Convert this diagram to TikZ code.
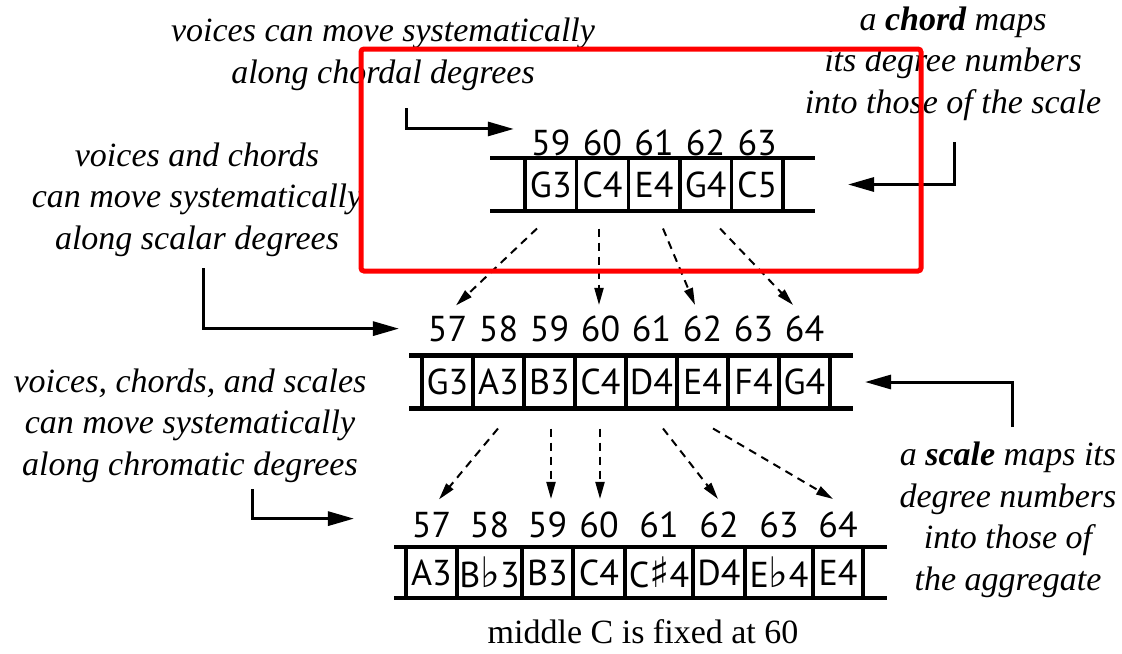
\documentclass[tikz,border=0pt]{standalone}
\usepackage{fontspec}
\setmainfont{Liberation Serif}
\setsansfont{PT Sans}
\newfontfamily\musicfont{DejaVu Sans}
\usepackage{tikz}
\usetikzlibrary{arrows.meta,positioning}
\definecolor{hlRed}{HTML}{FF0000}
\newcommand{\notesize}{\fontsize{17pt}{20.75pt}\selectfont}
\newcommand{\lblsize}{\fontsize{18pt}{21pt}\selectfont}
\newcommand{\flt}{{\musicfont\fontsize{21pt}{21pt}\selectfont ♭}}
\newcommand{\shp}{{\musicfont\fontsize{21pt}{21pt}\selectfont ♯}}

\begin{document}
\begin{tikzpicture}[
    x=0.5pt, y=-0.5pt,
    >={Triangle[length=13pt,width=7pt]},
    cell/.style={draw, line width=1.7pt, inner sep=0pt, outer sep=0pt,
                 minimum height=26.5pt, font=\sffamily\lblsize},
    num/.style={anchor=base, inner sep=0pt, font=\sffamily\lblsize},
    rail/.style={line width=2.2pt},
    note/.style={anchor=base, align=center, inner sep=0pt, font=\itshape\notesize},
    arr/.style={->, line width=1.5pt},
    map/.style={-{Triangle[length=8.5pt,width=4.5pt]}, line width=1pt,
                dash pattern=on 4pt off 3pt},
  ]
  \useasboundingbox (0,0) rectangle (1122,653);
  % chord row
  \foreach \lbl/\n [count=\i] in {G3/59,C4/60,E4/61,G4/62,C5/63} {
    \node[cell, minimum width=25.8pt] (ch\i) at ({499.2+51.6*\i},184.5) {\lbl};
    \node[num] (chn\i) at ({499.2+51.6*\i},155) {\n};
  }
  \draw[rail] ([xshift=-17.5pt]ch1.north west) -- ([xshift=16pt]ch5.north east);
  \draw[rail] ([xshift=-17.5pt]ch1.south west) -- ([xshift=16pt]ch5.south east);
  % scale row
  \foreach \lbl/\n [count=\i] in {G3/57,A3/58,B3/59,C4/60,D4/61,E4/62,F4/63,G4/64} {
    \node[cell, minimum width=25.5pt] (sc\i) at ({396.5+51*\i},382) {\lbl};
    \node[num] (scn\i) at ({396.5+51*\i},341) {\n};
  }
  \draw[rail] ([xshift=-6.5pt]sc1.north west) -- ([xshift=11.5pt]sc8.north east);
  \draw[rail] ([xshift=-6.5pt]sc1.south west) -- ([xshift=11.5pt]sc8.south east);
  % aggregate row
  \foreach \lbl/\n/\cx/\w [count=\i] in {A3/57/431.5/51, B\flt3/58/489.5/65,
      B3/59/547.5/51, C4/60/599/52, C\shp4/61/659/68, D4/62/719/52,
      E\flt4/63/779/68, E4/64/838/50} {
    \node[cell, minimum height=25.5pt, minimum width=\w*0.5pt] (ag\i) at (\cx,572.5) {\lbl};
    \node[num] (agn\i) at (\cx,537) {\n};
  }
  \draw[rail] ([xshift=-6pt]ag1.north west) -- ([xshift=12pt]ag8.north east);
  \draw[rail] ([xshift=-6pt]ag1.south west) -- ([xshift=12pt]ag8.south east);
  % chord -> scale
  \draw[map] ([xshift=-6.9pt,yshift=-8.75pt]ch1.south) -- ([xshift=4.25pt,yshift=5pt]scn1.north);
  \draw[map] ([xshift=-1.7pt,yshift=-8.75pt]ch2.south) -- ([xshift=-0.75pt,yshift=5pt]scn4.north);
  \draw[map] ([xshift=4.5pt,yshift=-8.75pt]ch3.south) -- ([xshift=-3.75pt,yshift=5pt]scn6.north);
  \draw[map] ([xshift=7.2pt,yshift=-8.75pt]ch4.south) -- ([xshift=-5.75pt,yshift=5pt]scn8.north);
  % scale -> aggregate
  \draw[map] ([xshift=-0.25pt,yshift=-10pt]sc2.south) -- ([xshift=3.75pt,yshift=6pt]agn1.north);
  \draw[map] ([xshift=0.75pt,yshift=-10pt]sc3.south) -- ([xshift=1.75pt,yshift=6pt]agn3.north);
  \draw[map] ([xshift=-0.25pt,yshift=-10pt]sc4.south) -- ([xshift=0.5pt,yshift=6pt]agn4.north);
  \draw[map] ([xshift=5.75pt,yshift=-10pt]sc5.south) -- ([xshift=-0.5pt,yshift=6pt]agn6.north);
  \draw[map] ([xshift=5.25pt,yshift=-10pt]sc6.south) -- ([xshift=-2.5pt,yshift=6pt]agn8.north);
  % notes (anchored at the last line)
  \node[note] (chordalNote) at (383,83) {voices can move systematically\\along chordal degrees};
  \node[note] (scalarNote) at (197,249) {voices and chords\\can move systematically\\along scalar degrees};
  \node[note] (chromNote) at (190,475) {voices, chords, and scales\\can move systematically\\along chromatic degrees};
  \node[note] (chordMaps) at (953,113) {a \textbf{chord} maps\\its degree numbers\\into those of the scale};
  \node[note] (scaleMaps) at (1008,590) {a \textbf{scale} maps its\\degree numbers\\into those of\\the aggregate};
  \node[anchor=base, inner sep=0pt, font=\notesize] (fixedNote) at (643,643) {middle C is fixed at 60};
  % note arrows
  \coordinate (chordalFrom) at (406,108);
  \coordinate (scalarFrom) at (203,268);
  \coordinate (chromFrom) at (252,489);
  \coordinate (chordFrom) at (954,142);
  \coordinate (scaleFrom) at (1012,427);
  \draw[arr] (chordalFrom) |- ([xshift=-8.5pt]chn1.north west);
  \draw[arr] (scalarFrom) |- ([xshift=-14.25pt]scn1.west);
  \draw[arr] (chromFrom) |- ([xshift=-28.75pt,yshift=3pt]agn1.west);
  \draw[arr] (chordFrom) |- ([xshift=32.5pt]ch5.east);
  \draw[arr] (scaleFrom) |- ([xshift=17.5pt]sc8.east);
  % highlight
  \draw[line width=2.5pt, draw=hlRed, rounded corners=1.5pt] (361,49) rectangle (921,271);
\end{tikzpicture}
\end{document}
